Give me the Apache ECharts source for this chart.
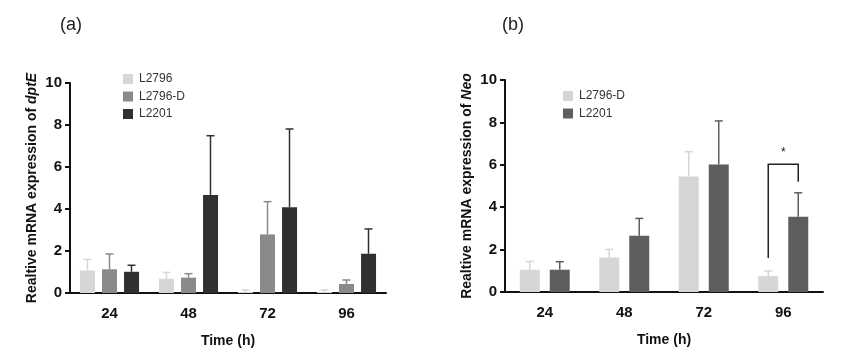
<!DOCTYPE html>
<html><head><meta charset="utf-8">
<script src="https://cdn.jsdelivr.net/npm/echarts@6/dist/echarts.min.js"></script>
<style>html,body{margin:0;padding:0;background:#fff}#c{width:865px;height:355px}</style>
</head><body><div id="c"></div>
<script>
// ---------- data ----------
var categories = ['24', '48', '72', '96'];
var yTicks = [0, 2, 4, 6, 8, 10];

// Panel (a): dptE
var aNames = ['L2796', 'L2796-D', 'L2201'];
var aL2796 = [1.07, 0.68, 0.05, 0.05];
var aL2796Err = [0.53, 0.30, 0.10, 0.10];
var aL2796D = [1.13, 0.73, 2.79, 0.43];
var aL2796DErr = [0.73, 0.19, 1.56, 0.19];
var aL2201 = [1.01, 4.67, 4.08, 1.87];
var aL2201Err = [0.31, 2.82, 3.73, 1.18];

// Panel (b): Neo
var bNames = ['L2796-D', 'L2201'];
var bL2796D = [1.05, 1.63, 5.45, 0.75];
var bL2796DErr = [0.39, 0.38, 1.17, 0.24];
var bL2201 = [1.05, 2.65, 6.01, 3.55];
var bL2201Err = [0.38, 0.82, 2.06, 1.13];

// significance bracket in panel (b): category index, left foot, top, right foot
var sigCategory = 3;
var sigLeftFoot = 1.6;
var sigTop = 6.03;
var sigRightFoot = 5.2;
var sigLabel = '*';

// ---------- chart ----------
var FONT = '"Liberation Sans", Arial, sans-serif';
var chart = echarts.init(document.getElementById('c'));

function errSeries(name, values, errs, xi, color, barW, gap, idx, n) {
  var data = values.map(function (v, i) { return [i, v, v + errs[i]]; });
  return {
    type: 'custom', name: name + '-err', xAxisIndex: xi, yAxisIndex: xi,
    silent: true, z: 1,
    renderItem: function (params, api) {
      var c = api.value(0);
      var p0 = api.coord([c, api.value(1)]);
      var p1 = api.coord([c, api.value(2)]);
      var off = (barW + gap) * (idx - (n - 1) / 2);
      var x = p0[0] + off;
      var st = { stroke: color, lineWidth: 1.5 };
      return { type: 'group', children: [
        { type: 'line', shape: { x1: x, y1: p0[1], x2: x, y2: p1[1] }, style: st },
        { type: 'line', shape: { x1: x - 4, y1: p1[1], x2: x + 4, y2: p1[1] }, style: st }
      ]};
    },
    data: data
  };
}

function barSeries(name, values, xi, color, barW, gapPct) {
  return {
    type: 'bar', name: name, xAxisIndex: xi, yAxisIndex: xi,
    data: values, barWidth: barW, barGap: gapPct, z: 2,
    itemStyle: { color: color }
  };
}

function xAxis(gi) {
  return {
    type: 'category', gridIndex: gi, data: categories,
    name: 'Time (h)', nameLocation: 'middle', nameGap: 41,
    nameTextStyle: { fontFamily: FONT, fontWeight: 'bold', fontSize: 14, color: '#111' },
    axisLine: { lineStyle: { color: '#111', width: 2 } },
    axisTick: { alignWithLabel: true, length: 5, lineStyle: { color: '#111', width: 2 } },
    axisLabel: { fontFamily: FONT, fontWeight: 'bold', fontSize: 15, color: '#111', margin: 13 }
  };
}

function yAxis(gi, gene) {
  return {
    type: 'value', gridIndex: gi, min: 0, max: 10, interval: 2,
    name: '{b|Realtive mRNA expression of }{i|' + gene + '}',
    nameLocation: 'middle', nameGap: 31, nameRotate: 90,
    nameTextStyle: { rich: {
      b: { fontFamily: FONT, fontWeight: 'bold', fontSize: 14, color: '#111' },
      i: { fontFamily: FONT, fontWeight: 'bold', fontStyle: 'italic', fontSize: 14, color: '#111' }
    }},
    axisLine: { show: true, lineStyle: { color: '#111', width: 2 } },
    axisTick: { show: true, length: 5, lineStyle: { color: '#111', width: 2 } },
    splitLine: { show: false },
    axisLabel: { fontFamily: FONT, fontWeight: 'bold', fontSize: 15, color: '#111', margin: 8,
      formatter: function (v) { return yTicks.indexOf(v) >= 0 ? String(v) : ''; } }
  };
}

var colA = ['#d6d6d6', '#8a8a8a', '#303030'];
var colB = ['#d6d6d6', '#5e5e5e'];

function legendData(names, cols) {
  return names.map(function (n, i) { return { name: n, itemStyle: { color: cols[i] } }; });
}

var legendText = { fontFamily: FONT, fontSize: 12, color: '#333', lineHeight: 12, padding: [0, 0, 0, 1] };

var option = {
  animation: false,
  backgroundColor: '#fff',
  title: [
    { text: '(a)', left: 60, top: 16, padding: 0, textStyle: { fontFamily: FONT, fontWeight: 'normal', fontSize: 18, color: '#222' } },
    { text: '(b)', left: 502, top: 16, padding: 0, textStyle: { fontFamily: FONT, fontWeight: 'normal', fontSize: 18, color: '#222' } }
  ],
  legend: [
    { data: legendData(aNames, colA), orient: 'vertical', left: 123, top: 73, padding: 0,
      itemWidth: 10, itemHeight: 10, itemGap: 5.5, icon: 'rect', selectedMode: false, textStyle: legendText },
    { data: legendData(bNames, colB), orient: 'vertical', left: 563, top: 90, padding: 0,
      itemWidth: 10, itemHeight: 10, itemGap: 5.5, icon: 'rect', selectedMode: false, textStyle: legendText }
  ],
  grid: [
    { left: 70, top: 83, width: 316, height: 210 },
    { left: 505, top: 80, width: 318, height: 212 }
  ],
  xAxis: [xAxis(0), xAxis(1)],
  yAxis: [yAxis(0, 'dptE'), yAxis(1, 'Neo')],
  series: [
    barSeries(aNames[0], aL2796, 0, colA[0], 15, '47%'),
    barSeries(aNames[1], aL2796D, 0, colA[1], 15, '47%'),
    barSeries(aNames[2], aL2201, 0, colA[2], 15, '47%'),
    errSeries(aNames[0], aL2796, aL2796Err, 0, colA[0], 15, 7, 0, 3),
    errSeries(aNames[1], aL2796D, aL2796DErr, 0, colA[1], 15, 7, 1, 3),
    errSeries(aNames[2], aL2201, aL2201Err, 0, colA[2], 15, 7, 2, 3),

    barSeries(bNames[0], bL2796D, 1, colB[0], 20, '50%'),
    barSeries(bNames[1], bL2201, 1, colB[1], 20, '50%'),
    errSeries(bNames[0], bL2796D, bL2796DErr, 1, colB[0], 20, 10, 0, 2),
    errSeries(bNames[1], bL2201, bL2201Err, 1, colB[1], 20, 10, 1, 2),
    {
      type: 'custom', xAxisIndex: 1, yAxisIndex: 1, silent: true, z: 3,
      data: [[sigCategory, sigLeftFoot, sigTop, sigRightFoot]],
      renderItem: function (params, api) {
        var c = api.value(0);
        var pl = api.coord([c, api.value(1)]);
        var pt = api.coord([c, api.value(2)]);
        var pr = api.coord([c, api.value(3)]);
        var off = 15;
        var xl = pl[0] - off, xr = pl[0] + off;
        var st = { stroke: '#222', lineWidth: 1.5, fill: null };
        return { type: 'group', children: [
          { type: 'polyline', shape: { points: [[xl, pl[1]], [xl, pt[1]], [xr, pt[1]], [xr, pr[1]]] }, style: st },
          { type: 'text', style: { text: sigLabel, x: pl[0], y: pt[1] - 5, textAlign: 'center', textVerticalAlign: 'bottom',
            font: '12px ' + FONT, fill: '#222' } }
        ]};
      }
    }
  ]
};
chart.setOption(option);
</script>
</body></html>
